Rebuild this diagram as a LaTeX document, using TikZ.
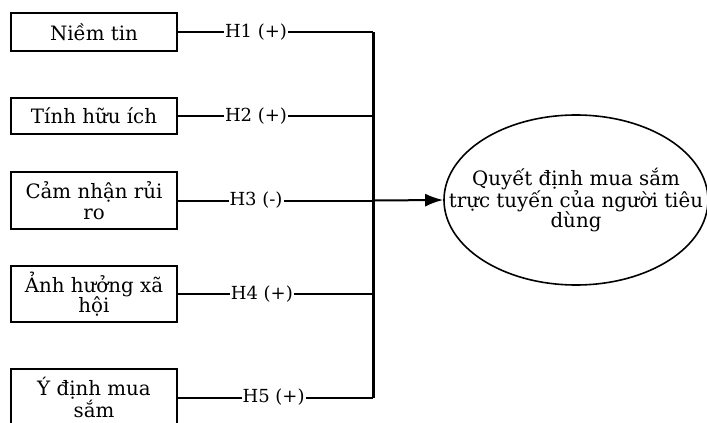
\documentclass[tikz,border=0pt]{standalone}
\usepackage{fontspec}
\setmainfont{DejaVu Serif}
\usetikzlibrary{shapes.geometric,arrows.meta}

\begin{document}
\begin{tikzpicture}[x=1pt,y=-1pt,
  txt/.style={font=\fontsize{19.8}{20.5}\selectfont},
  factor/.style={txt, draw, line width=2pt, minimum width=166pt, align=center, inner sep=0pt},
  outcome/.style={ellipse, draw, line width=1.6pt, minimum width=264pt, minimum height=170pt, inner sep=0pt},
  outtext/.style={txt, align=center, inner sep=0pt},
  link/.style={line width=2pt},
  bus/.style={line width=3pt},
  hyp/.style={font=\fontsize{18}{20}\selectfont, fill=white, inner sep=1pt}
]
\useasboundingbox (0,0) rectangle (707,423);
\clip (0,0) rectangle (707,423);

% factors
\node[factor, minimum height=38pt] (b1) at (94,32) {Niềm tin};
\node[factor, minimum height=36pt] (b2) at (94,116) {Tính hữu ích};
\node[factor, minimum height=57pt] (b3) at (94,200.5) {Cảm nhận rủi\\ro};
\node[factor, minimum height=56pt] (b4) at (94,294) {Ảnh hưởng xã\\hội};
\node[factor, minimum height=57pt] (b5) at (94,397.5) {Ý định mua\\sắm};

% outcome
\node[outcome] (out) at (576,200) {};
\node[outtext] (outlbl) at (out.center) {Quyết định mua sắm\\trực tuyến của người tiêu\\dùng};

% junctions on the bus
\coordinate (j1) at (373,32);
\coordinate (j2) at (373,116);
\coordinate (j3) at (373,200.5);
\coordinate (j4) at (373,294);
\coordinate (j5) at (373,397.5);

\draw[bus] (j1) -- (j5);
\draw[link] (b1.east) -- node[hyp, pos=0.40] {H1 (+)} (j1);
\draw[link] (b2.east) -- node[hyp, pos=0.40] {H2 (+)} (j2);
\draw[link] (b3.east) -- node[hyp, pos=0.40] {H3 (-)} (j3);
\draw[link] (b4.east) -- node[hyp, pos=0.43] {H4 (+)} (j4);
\draw[link] (b5.east) -- node[hyp, pos=0.49] {H5 (+)} (j5);

\draw[link, -{Latex[length=18pt,width=13pt]}] (j3) -- (out.west);
\end{tikzpicture}
\end{document}
